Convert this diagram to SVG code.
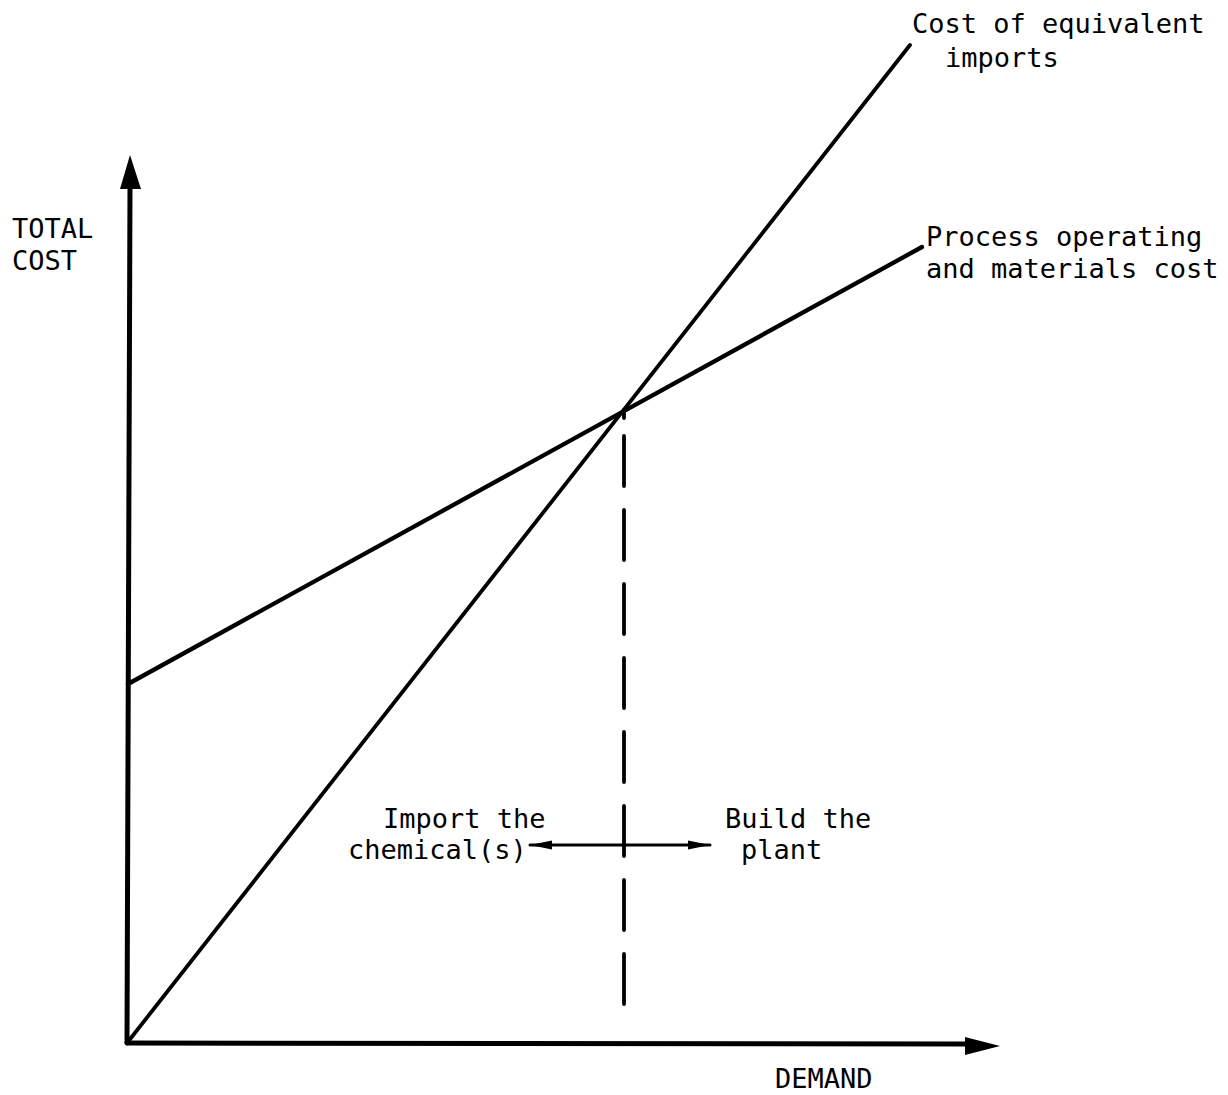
<svg xmlns="http://www.w3.org/2000/svg" width="1228" height="1095" viewBox="0 0 1228 1095">
<style>
text{font-family:"DejaVu Sans Mono","Liberation Mono",monospace;font-size:27px;fill:#000}
.ln{stroke:#000;fill:none;stroke-linecap:round}
</style>
<defs>
<marker id="ah" viewBox="0 0 22 10" refX="22" refY="5" markerWidth="22" markerHeight="10" markerUnits="userSpaceOnUse" orient="auto-start-reverse">
<path d="M0,0.5 L22,5 L0,9.5 Z" fill="#000"/>
</marker>
</defs>
<rect width="1228" height="1095" fill="#fff"/>
<g id="axes">
<line class="ln" x1="127" y1="1043" x2="130" y2="186" stroke-width="5"/>
<path d="M130,155 L120,189 L141,189 Z" fill="#000"/>
<line class="ln" x1="127" y1="1043" x2="968" y2="1044" stroke-width="5"/>
<path d="M1000,1046 L965,1037 L965,1055 Z" fill="#000"/>
</g>
<g id="connectors">
<line id="imports-line" class="ln" x1="127" y1="1043" x2="910" y2="45" stroke-width="3.8"/>
<line id="process-line" class="ln" x1="128" y1="684" x2="922" y2="247" stroke-width="4.3"/>
<line class="ln" x1="624" y1="410" x2="624" y2="418" stroke-width="3.8" stroke-linecap="butt"/>
<line class="ln" x1="624" y1="436" x2="624" y2="1010" stroke-width="3.8" stroke-dasharray="50 24" stroke-linecap="butt"/>
<line class="ln" x1="530" y1="845" x2="710" y2="845" stroke-width="3" marker-start="url(#ah)" marker-end="url(#ah)"/>
</g>
<g id="label-total-cost">
<text x="12" y="238">TOTAL</text>
<text x="12" y="270">COST</text>
</g>
<g id="label-demand"><text x="775" y="1088">DEMAND</text></g>
<g id="label-imports">
<text x="912" y="33">Cost of equivalent</text>
<text x="945" y="67">imports</text>
</g>
<g id="label-process">
<text x="926" y="246">Process operating</text>
<text x="926" y="278">and materials cost</text>
</g>
<g id="label-import-chem">
<text x="383" y="828">Import the</text>
<text x="348" y="859">chemical(s)</text>
</g>
<g id="label-build">
<text x="725" y="828">Build the</text>
<text x="741" y="859">plant</text>
</g>
</svg>
